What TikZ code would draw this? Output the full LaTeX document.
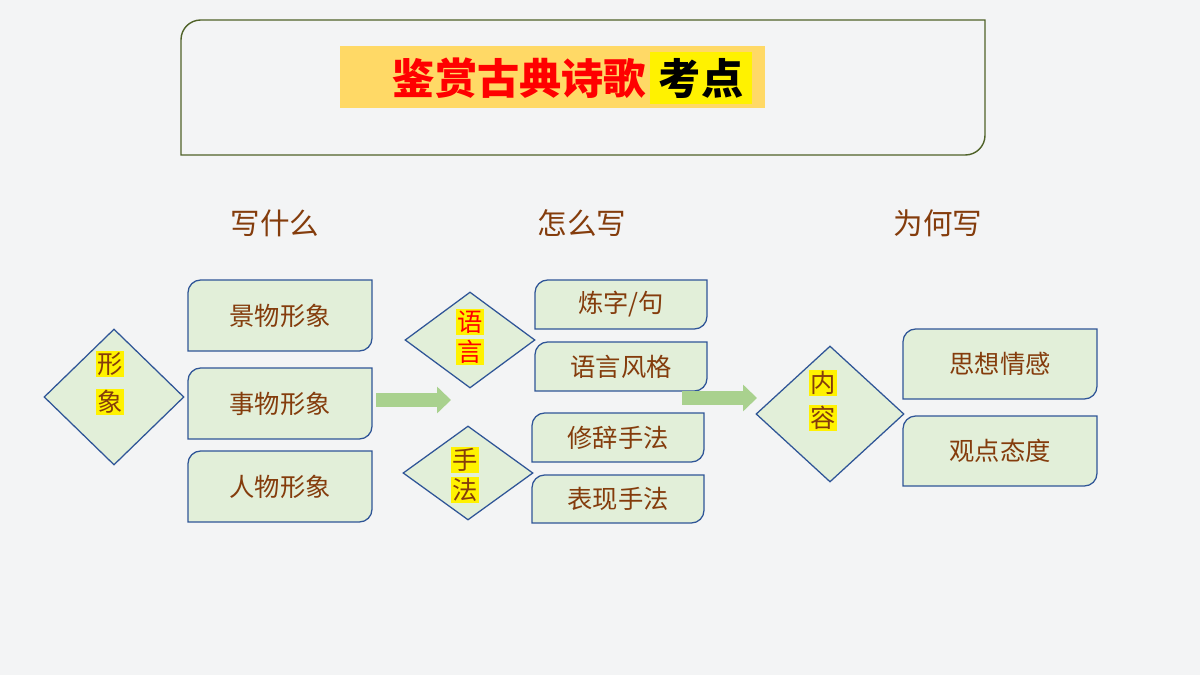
\documentclass[tikz,border=0pt]{standalone}
\usepackage{fontspec}
\setmainfont{Noto Sans CJK SC}
\usetikzlibrary{shapes.geometric,arrows.meta}
\definecolor{bg}{HTML}{F3F4F5}
\definecolor{fillg}{HTML}{E2EFD9}
\definecolor{bord}{HTML}{2F5597}
\definecolor{olive}{HTML}{4F6228}
\definecolor{brn}{HTML}{843C0C}
\definecolor{arr}{HTML}{A9D18E}
\definecolor{orng}{HTML}{FFD966}
\tikzset{
 px/.style={x=0.025cm,y=-0.025cm},
 boxline/.style={draw=bord,fill=fillg,line width=0.9pt},
 dia/.style={diamond,draw=bord,fill=fillg,line width=0.9pt,inner sep=0pt},
 btxt/.style={text=brn,font=\fontsize{18}{20}\selectfont},
 head/.style={text=brn,font=\fontsize{21}{24}\selectfont},
 hl/.style={fill=yellow,inner sep=1pt,font=\fontsize{18}{20}\selectfont},
 bigarrow/.style={arr,line width=0.35cm,-{Triangle[length=0.35cm,width=0.65cm]}},
}
\newcommand\mybox[6]{%
 \draw[boxline] (#2,#5) [rounded corners=9] -- (#2,#3) [sharp corners] -- (#4,#3) [rounded corners=9] -- (#4,#5) [sharp corners] -- cycle;
 \node[btxt] (#1) at ({(#2+#4)/2},{(#3+#5)/2}) {#6};}
\begin{document}
\begin{tikzpicture}[px]
\fill[bg] (0,0) rectangle (1200,675);
\useasboundingbox (0,0) rectangle (1200,675);
% title
\draw[olive,line width=1pt] (181,155) [rounded corners=14] -- (181,20) [sharp corners] -- (985,20) [rounded corners=14] -- (985,155) [sharp corners] -- cycle;
\fill[orng] (340,46) rectangle (765,108);
\fill[yellow] (650,52) rectangle (752,104);
\node[text=red,font=\fontsize{30}{32}\selectfont\bfseries,anchor=east] (t1) at (651,78) {鉴赏古典诗歌};
\node[text=black,font=\fontsize{30}{32}\selectfont\bfseries] (t2) at (701,78) {考点};
% headers
\node[head] (h1) at (275,223) {写什么};
\node[head] (h2) at (582,223) {怎么写};
\node[head] (h3) at (938,223) {为何写};
% left
\node[dia,minimum width=140*0.025cm,minimum height=136*0.025cm] (d1) at (114,397) {};
\node[hl,text=brn] (d1a) at (110,364) {形};
\node[hl,text=brn] (d1b) at (110,402) {象};
\mybox{b1}{188}{280}{372}{351}{景物形象}
\mybox{b2}{188}{368}{372}{439}{事物形象}
\mybox{b3}{188}{451}{372}{522}{人物形象}
\coordinate (a1s) at (376,400); \coordinate (a1e) at (451,400);
\draw[bigarrow] (a1s) -- (a1e);
% middle
\node[dia,minimum width=130*0.025cm,minimum height=96*0.025cm] (d2) at (470,340) {};
\node[hl,text=red] (d2a) at (470,322) {语};
\node[hl,text=red] (d2b) at (470,352) {言};
\node[dia,minimum width=130*0.025cm,minimum height=94*0.025cm] (d3) at (468,473) {};
\node[hl,text=brn] (d3a) at (465,460) {手};
\node[hl,text=brn] (d3b) at (465,490) {法};
\mybox{c1}{535}{280}{707}{329}{炼字/句}
\mybox{c2}{535}{342}{707}{391}{语言风格}
\mybox{c3}{532}{413}{704}{462}{修辞手法}
\mybox{c4}{532}{475}{704}{523}{表现手法}
\coordinate (a2s) at (682,398); \coordinate (a2e) at (757,398);
\draw[bigarrow] (a2s) -- (a2e);
% right
\node[dia,minimum width=148*0.025cm,minimum height=136*0.025cm] (d4) at (830,414) {};
\node[hl,text=brn] (d4a) at (823,383) {内};
\node[hl,text=brn] (d4b) at (823,418) {容};
\mybox{e1}{903}{329}{1097}{399}{思想情感}
\mybox{e2}{903}{416}{1097}{486}{观点态度}
\end{tikzpicture}
\end{document}
